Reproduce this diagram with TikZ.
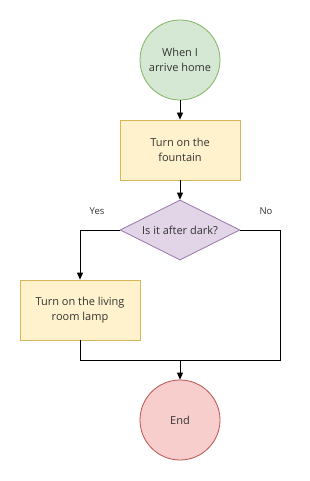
\documentclass[tikz,border=0pt]{standalone}
\usepackage{fontspec}
\setmainfont{Open Sans}
\usepackage{tikz}
\usetikzlibrary{arrows.meta, shapes.geometric}
\definecolor{startfill}{HTML}{D5E8D4}
\definecolor{startdraw}{HTML}{82B366}
\definecolor{boxfill}{HTML}{FFF2CC}
\definecolor{boxdraw}{HTML}{D6B656}
\definecolor{askfill}{HTML}{E1D5E7}
\definecolor{askdraw}{HTML}{9673A6}
\definecolor{endfill}{HTML}{F8CECC}
\definecolor{enddraw}{HTML}{B85450}
\definecolor{txt}{HTML}{333333}

\begin{document}
\begin{tikzpicture}[x=1pt, y=-1pt,
    every node/.style={font=\fontsize{11}{15}\selectfont, text=txt},
    term/.style={circle, draw, minimum size=80pt, inner sep=0pt, align=center, line width=0.8pt},
    action/.style={rectangle, draw=boxdraw, fill=boxfill, minimum width=120pt, minimum height=60pt,
                   inner sep=0pt, align=center, line width=0.8pt},
    ask/.style={diamond, draw=askdraw, fill=askfill, minimum width=120pt, minimum height=60pt,
                inner sep=0pt, aspect=2, line width=0.8pt},
    answer/.style={font=\fontsize{9.5}{12}\selectfont},
    arr/.style={-{Triangle[length=7pt,width=6pt]}, line width=0.8pt}]
    \useasboundingbox (0,0) rectangle (309,481);

    \node[term, draw=startdraw, fill=startfill] (home)     at (180,60)  {When I\\arrive home};
    \node[action]                               (fountain) at (180,150) {Turn on the\\fountain};
    \node[ask]                                  (dark)     at (180,230) {Is it after dark?};
    \node[action]                               (lamp)     at (80,310)  {Turn on the living\\room lamp};
    \node[term, draw=enddraw, fill=endfill]     (finish)   at (180,420) {End};

    \node[answer] (yes) at (97,211)  {Yes};
    \node[answer] (no)  at (266,211) {No};

    \coordinate (join)   at (180,360);
    \coordinate (nodown) at (280,360);

    \draw[arr] (home) -- (fountain);
    \draw[arr] (fountain) -- (dark);
    \draw[arr] (dark.west) -| (lamp.north);
    \draw[line width=0.8pt] (dark.east) -| (nodown) -- (join);
    \draw[line width=0.8pt] (lamp.south) |- (join);
    \draw[arr] (join) -- (finish);
  \end{tikzpicture}
\end{document}
